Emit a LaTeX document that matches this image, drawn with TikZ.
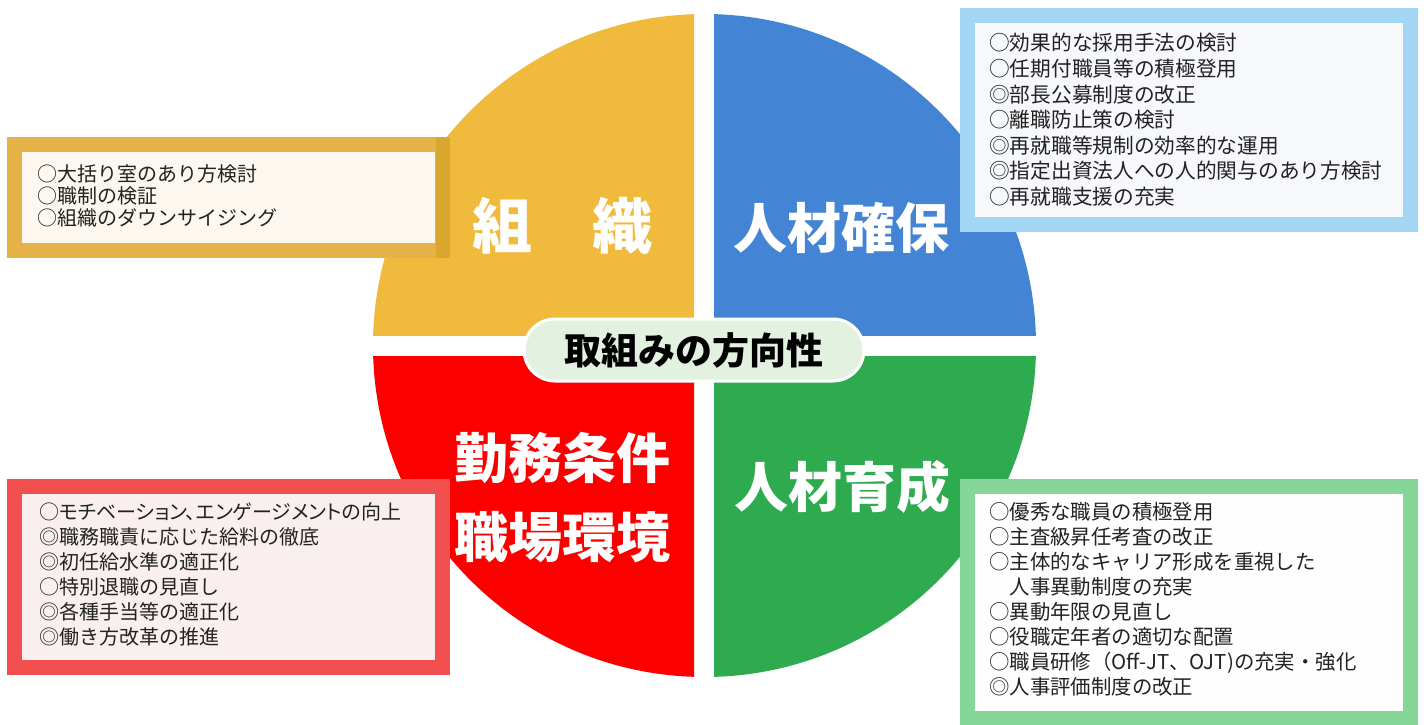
\documentclass[tikz,border=0pt]{standalone}
\usepackage{fontspec}
\setmainfont{Noto Sans CJK JP}
\newfontfamily\jpp[RawFeature=+palt]{Noto Sans CJK JP}
\definecolor{qY}{HTML}{F0BA3C}
\definecolor{qB}{HTML}{4484D4}
\definecolor{qR}{HTML}{FC0000}
\definecolor{qG}{HTML}{2EAB4F}
\definecolor{bY}{HTML}{E4B247}
\definecolor{bYd}{HTML}{D9A630}
\definecolor{iY}{HTML}{FCF8F0}
\definecolor{bB}{HTML}{A3D6F5}
\definecolor{iB}{HTML}{F6F8FB}
\definecolor{bR}{HTML}{F24F4F}
\definecolor{iR}{HTML}{FAEFEF}
\definecolor{bG}{HTML}{86D69A}
\definecolor{iG}{HTML}{FDFEFD}
\definecolor{pill}{HTML}{E3F1E1}
\definecolor{txt}{HTML}{222222}
\begin{document}
\begin{tikzpicture}[x=1pt,y=-1pt,
  item/.style={anchor=base west, inner sep=0pt, text=txt, font=\fontsize{20}{25}\selectfont},
  bitem/.style={item, font=\fontsize{20.7}{25}\selectfont},
  gitem/.style={item, font=\fontsize{20.4}{25}\selectfont},
  biglabel/.style={inner sep=0pt, text=white, font=\bfseries\fontsize{54}{60}\selectfont}]
\useasboundingbox (0,0) rectangle (1424,725);
\fill[white] (0,0) rectangle (1424,725);
% quadrants
\begin{scope}
  \clip (0,0) rectangle (694,335.5);
  \fill[qY] (704.5,345.5) circle[radius=331.5];
\end{scope}
\begin{scope}
  \clip (714,0) rectangle (1424,335.5);
  \fill[qB] (704.5,345.5) circle[radius=331.5];
\end{scope}
\begin{scope}
  \clip (0,356) rectangle (694,725);
  \fill[qR] (704.5,345.5) circle[radius=331.5];
\end{scope}
\begin{scope}
  \clip (714,356) rectangle (1424,725);
  \fill[qG] (704.5,345.5) circle[radius=331.5];
\end{scope}
% quadrant labels
\node[biglabel, font=\bfseries\fontsize{60}{66}\selectfont] (lY) at (562.5,226) {組　織};
\node[biglabel] (lB) at (841.5,228) {人材確保};
\node[biglabel] (lR1) at (562.5,458) {勤務条件};
\node[biglabel] (lR2) at (562.5,537) {職場環境};
\node[biglabel] (lG) at (842.5,487) {人材育成};
% centre pill
\node[draw=white, line width=3pt, fill=pill, rounded corners=31pt, minimum width=340pt, minimum height=62pt, inner sep=0pt,
  font=\bfseries\fontsize{37}{40}\selectfont, text=black] (centre) at (694,350) {取組みの方向性};
% boxes
\path[draw=bY, fill=iY, line width=15pt] (14.5,144.5) rectangle (442.5,250.5);
\fill[bYd] (436,137) rectangle (450,258);
\path[draw=bB, fill=iB, line width=15pt] (967.5,15.5) rectangle (1410.5,224.5);
\path[draw=bR, fill=iR, line width=15pt] (14.5,486.5) rectangle (442.5,667.5);
\path[draw=bG, fill=iG, line width=15pt] (967.5,486.5) rectangle (1410.5,718.5);
% texts
\foreach \t [count=\i] in {{○大括り室のあり方検討},{○職制の検証},{○組織のダウンサイジング}}
  \node[item] (y\i) at (37,181+22*\i-22) {\t};
\foreach \t [count=\i] in {{○効果的な採用手法の検討},{○任期付職員等の積極登用},{◎部長公募制度の改正},{○離職防止策の検討},{◎再就職等規制の効率的な運用},{◎指定出資法人への人的関与のあり方検討},{○再就職支援の充実}}
  \node[bitem] (b\i) at (989,51+25.5*\i-25.5) {\t};
\foreach \t [count=\i] in {{○{\jpp モチベーション、エンゲージメント}の向上},{◎職務職責に応じた給料の徹底},{◎初任給水準の適正化},{○特別退職の見直し},{◎各種手当等の適正化},{◎働き方改革の推進}}
  \node[item] (r\i) at (39,519.6+25*\i-25) {\t};
\foreach \t [count=\i] in {{○優秀な職員の積極登用},{○主査級昇任考査の改正},{○主体的なキャリア形成を重視した},{　人事異動制度の充実},{○異動年限の見直し},{○役職定年者の適切な配置},{○職員研修（Off-JT、OJT)の充実・強化},{◎人事評価制度の改正}}
  \node[gitem] (g\i) at (989,519.6+25*\i-25) {\t};
\end{tikzpicture}
\end{document}
